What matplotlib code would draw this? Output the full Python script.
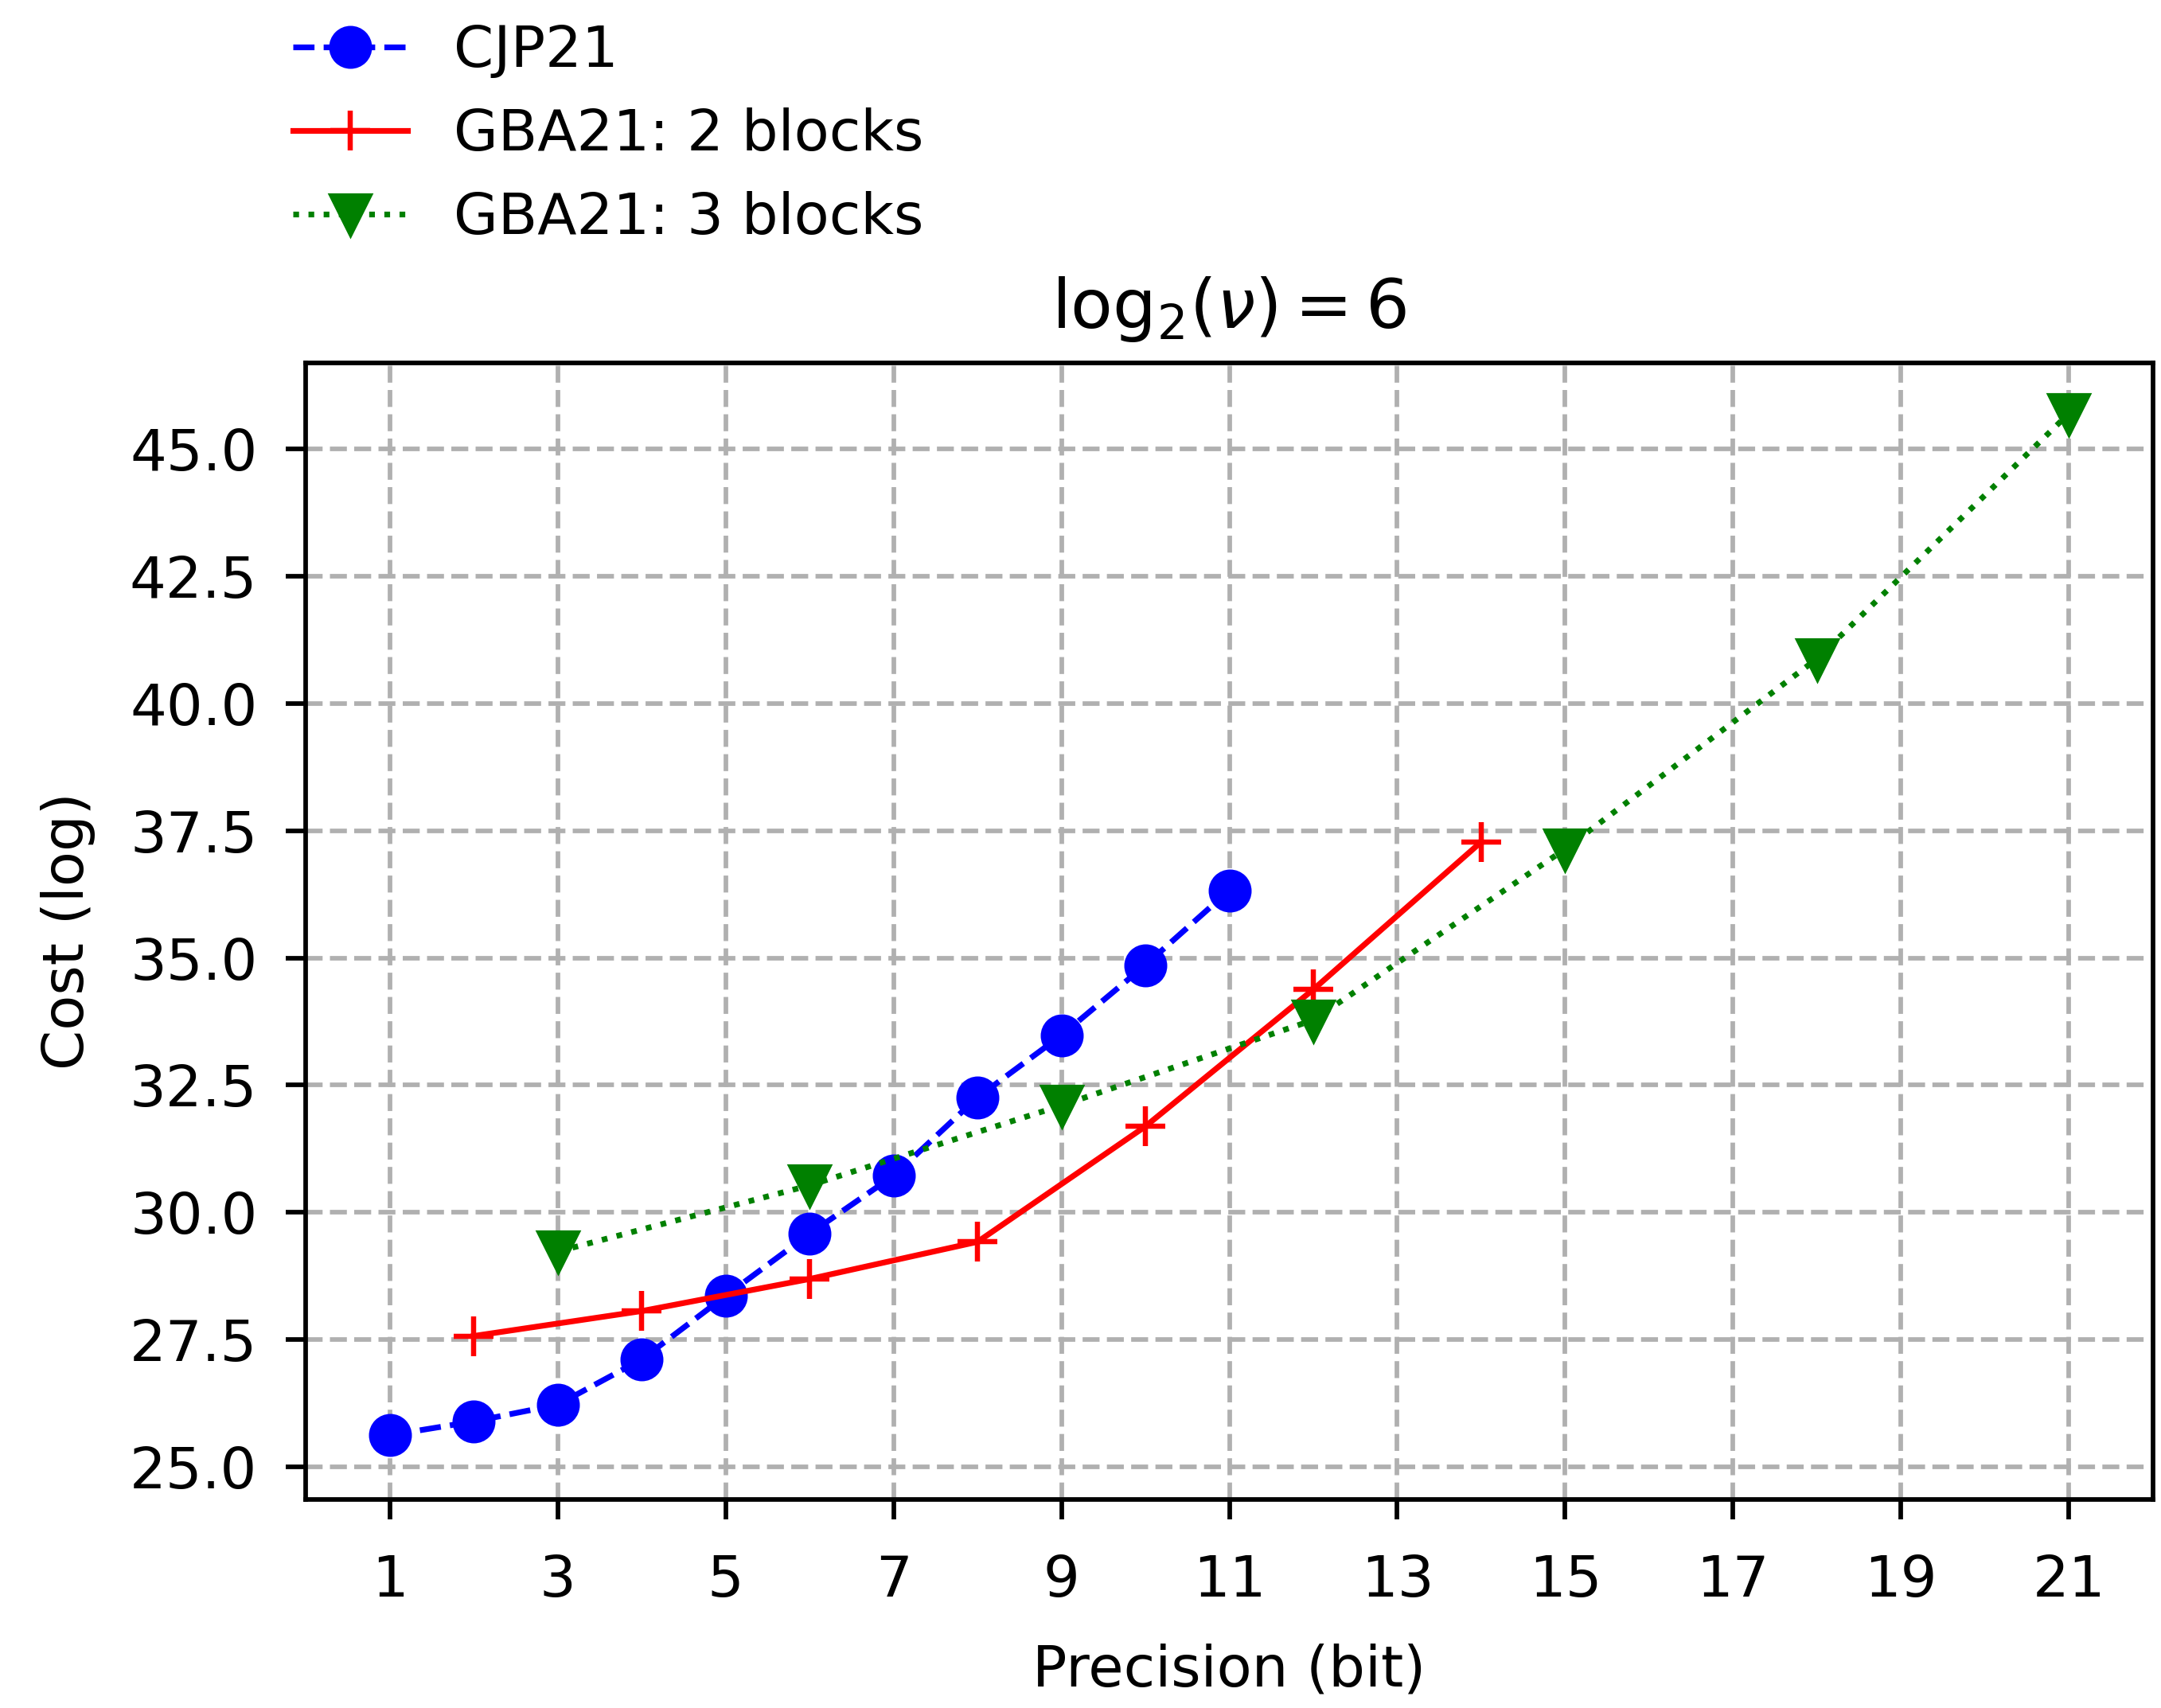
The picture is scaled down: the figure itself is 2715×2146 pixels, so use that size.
import matplotlib
matplotlib.use("Agg")
import matplotlib.pyplot as plt

# Data
cjp_x = [1, 2, 3, 4, 5, 6, 7, 8, 9, 10, 11]
cjp_y = [25.62, 25.89, 26.22, 27.11, 28.36, 29.58, 30.72, 32.26, 33.48, 34.86, 36.33]

gba2_x = [2, 4, 6, 8, 10, 12, 14]
gba2_y = [27.57, 28.06, 28.69, 29.42, 31.69, 34.38, 37.28]

gba3_x = [3, 6, 9, 12, 15, 18, 21]
gba3_y = [29.23, 30.53, 32.10, 33.78, 37.14, 40.88, 45.70]

xticks = [1, 3, 5, 7, 9, 11, 13, 15, 17, 19, 21]
labels = ["CJP21", "GBA21: 2 blocks", "GBA21: 3 blocks"]

dpi = 518
fig = plt.figure(figsize=(2715 / dpi, 2146 / dpi), dpi=dpi)
ax = fig.add_axes([0.1416, 0.1219, 0.9962 - 0.1416, 0.7877 - 0.1219])

ax.plot(cjp_x, cjp_y, "b--o", linewidth=1, markersize=6.5, label=labels[0])
ax.plot(gba2_x, gba2_y, "r-+", linewidth=1, markersize=7, markeredgewidth=0.9,
        label=labels[1])
ax.plot(gba3_x, gba3_y, "g:v", linewidth=1, markersize=6.5, label=labels[2])

ax.set_xticks(xticks)
ax.set_xlim(0, 22)
ax.set_ylim(24.35, 46.7)
ax.grid(True, linestyle="--")
ax.tick_params(axis="x", pad=5.9)
ax.tick_params(axis="y", pad=5.0)
ax.set_xlabel("Precision (bit)", labelpad=6)
ax.set_ylabel("Cost (log)", labelpad=6)
ax.set_title(r"log$_2(\nu) = 6$")

fig.legend(loc="center left", bbox_to_anchor=(0.125, 0.921),
           bbox_transform=fig.transFigure, borderaxespad=0, frameon=False)

fig.savefig("out.png", dpi=dpi)
